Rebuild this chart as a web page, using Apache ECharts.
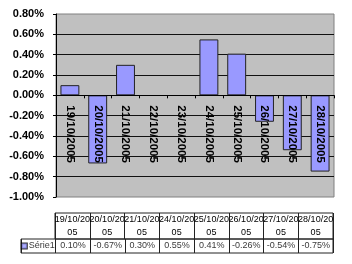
<!DOCTYPE html>
<html><head><meta charset="utf-8">
<script src="https://cdn.jsdelivr.net/npm/echarts@6/dist/echarts.min.js"></script>
<style>html,body{margin:0;padding:0;background:#fff}#c{width:352px;height:264px}</style>
</head><body><div id="c"></div>
<script>
const dates = ['19/10/2005','20/10/2005','21/10/2005','22/10/2005','23/10/2005','24/10/2005','25/10/2005','26/10/2005','27/10/2005','28/10/2005'];
const values = [0.10, -0.67, 0.30, null, null, 0.55, 0.41, -0.26, -0.54, -0.75];
const seriesName = 'Série1';
const yMin = -1, yMax = 0.8, yInterval = 0.2;

const tableDates = dates.filter((d, i) => values[i] !== null);
const tableValues = values.filter(v => v !== null);
const FONT = '"Liberation Sans", Arial, sans-serif';
const pct = v => v.toFixed(2) + '%';

const plotH = 183;
// place the category axis at the zero line of the value scale
const zeroOffset = -plotH * (0 - yMin) / (yMax - yMin);

const chart = echarts.init(document.getElementById('c'), null, {renderer: 'canvas'});
const cellData = [{value: [seriesName, seriesName], label: {formatter: '{b|}{t|' + seriesName + '}'}}]
  .concat(tableDates.map((d, i) => ({value: [d, seriesName], label: {formatter: pct(tableValues[i])}})));

chart.setOption({
  animation: false,
  grid: [
    {left: 56, top: 14, width: 278, height: plotH, show: true, backgroundColor: '#c0c0c0', borderColor: '#808080', borderWidth: 1},
    {left: 55, top: 213, width: 278, height: 26, show: true, borderColor: '#222', borderWidth: 1, backgroundColor: 'transparent'},
    {left: 21, top: 239, width: 312, height: 14, show: true, borderColor: '#222', borderWidth: 1, backgroundColor: 'transparent'}
  ],
  xAxis: [
    {gridIndex: 0, type: 'category', data: dates, z: 10, offset: zeroOffset,
     axisLine: {onZero: false, lineStyle: {color: '#000', width: 1}},
     axisTick: {show: true, length: 3, interval: 0, lineStyle: {color: '#000'}},
     axisLabel: {rotate: -90, margin: 10, interval: 0, color: '#000', fontFamily: FONT, fontSize: 11.5, fontWeight: 'bold'}},
    {gridIndex: 1, type: 'category', position: 'top', data: tableDates,
     axisLine: {show: false}, axisTick: {show: false},
     splitLine: {show: true, interval: 0, lineStyle: {color: '#222', width: 1}},
     axisLabel: {inside: true, margin: 0, interval: 0, formatter: d => d.slice(0, 8) + '\n' + d.slice(8),
                 fontFamily: FONT, fontSize: 9, lineHeight: 13, color: '#000'}},
    {gridIndex: 2, type: 'category', data: [seriesName].concat(tableDates),
     axisLine: {show: false}, axisTick: {show: false}, axisLabel: {show: false},
     splitLine: {show: true, interval: 0, lineStyle: {color: '#222', width: 1}}}
  ],
  yAxis: [
    {gridIndex: 0, type: 'value', min: yMin, max: yMax, interval: yInterval,
     axisLine: {show: true, lineStyle: {color: '#000'}},
     axisTick: {show: true, length: 3, lineStyle: {color: '#000'}},
     splitLine: {show: true, showMinLine: false, showMaxLine: false, lineStyle: {color: '#111', width: 1}},
     axisLabel: {margin: 12, formatter: v => pct(v), color: '#000', fontFamily: FONT, fontSize: 11, fontWeight: 'bold'}},
    {gridIndex: 1, type: 'category', data: [''], show: false},
    {gridIndex: 2, type: 'category', data: [seriesName], show: false}
  ],
  series: [
    {type: 'bar', name: seriesName, xAxisIndex: 0, yAxisIndex: 0, data: values, barWidth: '68%',
     itemStyle: {color: '#9999ff', borderColor: '#222', borderWidth: 1}},
    {type: 'scatter', xAxisIndex: 2, yAxisIndex: 2, symbol: 'rect', symbolSize: 1,
     itemStyle: {color: 'rgba(0,0,0,0)'}, silent: true,
     data: cellData,
     label: {show: true, position: 'inside', color: '#000', fontFamily: FONT, fontSize: 9,
             rich: {b: {width: 5, height: 5, backgroundColor: '#9999ff', borderColor: '#000', borderWidth: 1},
                    t: {fontFamily: FONT, fontSize: 9, color: '#000', padding: [0, 0, 0, 2]}}}}
  ]
});
</script></body></html>
